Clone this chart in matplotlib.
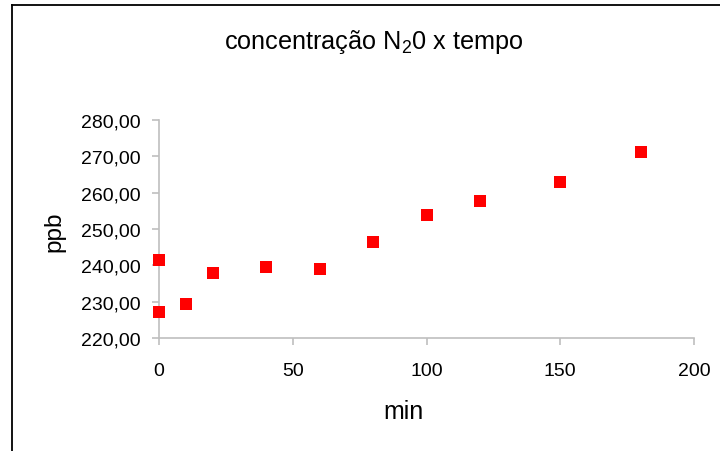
import matplotlib.pyplot as plt
from matplotlib.lines import Line2D
from matplotlib.ticker import FuncFormatter

plt.rcParams['font.family'] = ['Liberation Sans', 'DejaVu Sans']
plt.rcParams['mathtext.default'] = 'regular'

# data
tempo = [0, 0, 10, 20, 40, 60, 80, 100, 120, 150, 180]
ppb = [241.6, 227.2, 229.3, 237.9, 239.5, 238.9, 246.4, 253.9, 257.7, 263.0, 271.2]
x_ticks = [0, 50, 100, 150, 200]
y_ticks = [220, 230, 240, 250, 260, 270, 280]

fig = plt.figure(figsize=(7.2, 4.52), dpi=100)
ax = fig.add_axes([159/720, 1 - 339/452, (694 - 159)/720, (339 - 121)/452])

ax.scatter(tempo, ppb, marker='s', s=80, color='#ff0000', linewidths=0, zorder=3, clip_on=False)

ax.set_xlim(0, 200)
ax.set_ylim(220, 280)
ax.set_xticks(x_ticks)
ax.set_yticks(y_ticks)
ax.yaxis.set_major_formatter(FuncFormatter(lambda v, p: ('%.2f' % v).replace('.', ',')))

for side in ['top', 'right']:
    ax.spines[side].set_visible(False)
for side in ['left', 'bottom']:
    ax.spines[side].set_color('#bfbfbf')
    ax.spines[side].set_linewidth(1.2)
ax.tick_params(axis='both', colors='#bfbfbf', length=5, width=1.2, labelcolor='black', labelsize=14)
ax.tick_params(axis='x', pad=12)
ax.tick_params(axis='y', pad=8)

fig.text(374/720, 1 - 42/452, 'concentração N$_2$0 x tempo', ha='center', va='center', fontsize=18.2)
fig.text(54/720, 1 - 232/452, 'ppb', ha='center', va='center', rotation=90, fontsize=17.5)
fig.text(403/720, 1 - 412/452, 'min', ha='center', va='center', fontsize=18)

# outer chart border (only top and left edges fall inside the picture)
fig.add_artist(Line2D([12/720, 12/720], [0, 1 - 6/452], color='black', linewidth=1.3, transform=fig.transFigure))
fig.add_artist(Line2D([12/720, 1], [1 - 6/452, 1 - 6/452], color='black', linewidth=1.3, transform=fig.transFigure))

fig.savefig('out.png', dpi=100, facecolor='white')
